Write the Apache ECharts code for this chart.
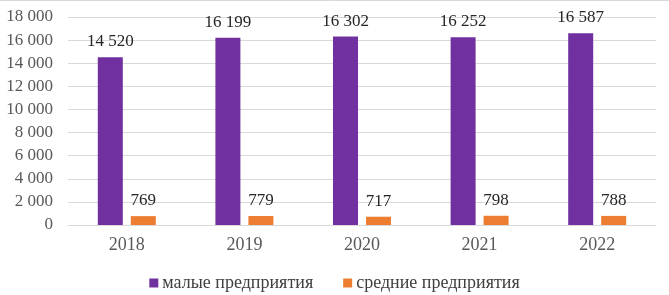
<!DOCTYPE html>
<html>
<head>
<meta charset="utf-8">
<script src="https://cdn.jsdelivr.net/npm/echarts@6/dist/echarts.min.js"></script>
<style>
  html, body { margin: 0; padding: 0; background: #fff; }
  #chart { width: 669px; height: 295px; }
</style>
</head>
<body>
<div id="chart"></div>
<script>
  // годы
  var years = ["2018", "2019", "2020", "2021", "2022"];
  // малые предприятия
  var smallData = [14520, 16199, 16302, 16252, 16587];
  // средние предприятия
  var mediumData = [769, 779, 717, 798, 788];

  var fmt = function (v) {
    return String(v).replace(/\B(?=(\d{3})+(?!\d))/g, " ");
  };

  var chart = echarts.init(document.getElementById("chart"));
  chart.setOption({
    animation: false,
    textStyle: { fontFamily: "Liberation Serif" },
    grid: { left: 68, right: 13, top: 17, bottom: 70 },
    // рамка сверху
    graphic: [{
      type: "line",
      shape: { x1: 0, y1: 0.5, x2: 669, y2: 0.5 },
      style: { stroke: "#d9d9d9", lineWidth: 1 },
    }],
    legend: {
      top: 269,
      left: "center",
      itemWidth: 9,
      itemHeight: 9,
      itemGap: 30,
      icon: "rect",
      textStyle: { color: "#404040", fontSize: 18, fontFamily: "Liberation Serif", padding: [0, 0, 0, -1] },
      data: ["малые предприятия", "средние предприятия"],
    },
    xAxis: {
      type: "category",
      data: years,
      axisTick: { show: false },
      axisLine: { lineStyle: { color: "#d9d9d9" } },
      axisLabel: { color: "#595959", fontSize: 18, margin: 11 },
    },
    yAxis: {
      type: "value",
      min: 0,
      max: 18000,
      interval: 2000,
      axisLabel: {
        color: "#595959",
        fontSize: 17,
        margin: 15,
        formatter: fmt,
      },
      splitLine: { lineStyle: { color: "#d9d9d9" } },
      axisLine: { show: false },
      axisTick: { show: false },
    },
    series: [
      {
        name: "малые предприятия",
        type: "bar",
        data: smallData,
        barWidth: 25,
        barGap: "32%",
        itemStyle: { color: "#7030A0" },
        label: {
          show: true,
          position: "top",
          distance: 7,
          color: "#262626",
          fontSize: 17,
          formatter: function (p) { return fmt(p.value); },
        },
      },
      {
        name: "средние предприятия",
        type: "bar",
        data: mediumData,
        barWidth: 25,
        itemStyle: { color: "#ED7D31" },
        label: {
          show: true,
          position: "top",
          distance: 7,
          color: "#262626",
          fontSize: 17,
          formatter: function (p) { return fmt(p.value); },
        },
      },
    ],
  });
</script>
</body>
</html>
